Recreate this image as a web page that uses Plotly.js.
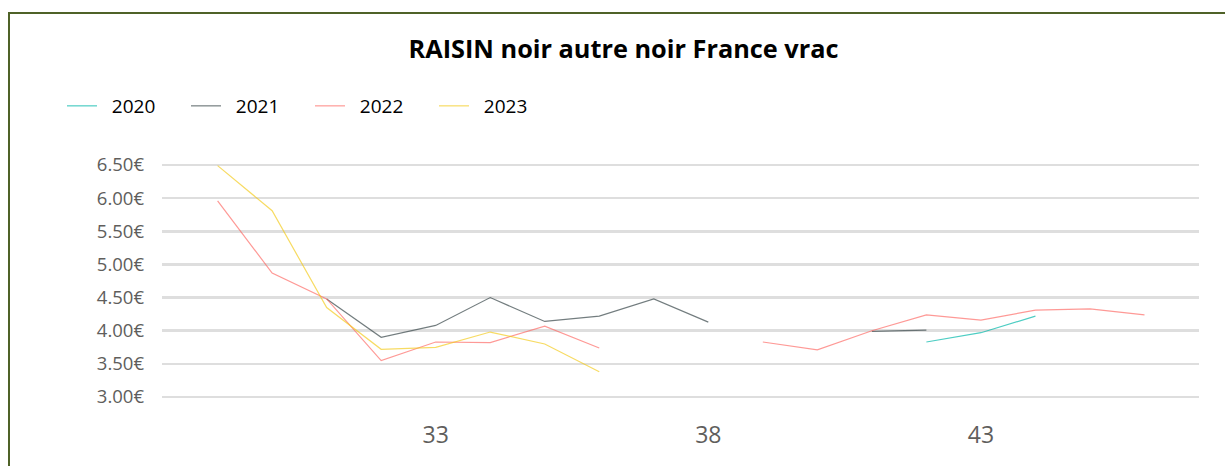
<!DOCTYPE html>
<html>
<head>
<meta charset="utf-8">
<script src="https://cdn.plot.ly/plotly-3.0.1.min.js"></script>
<style>
  html, body { margin:0; padding:0; background:#fff; overflow:hidden; }
  #chart { position:absolute; left:0; top:0; width:1225px; height:466px; }
  #frame { position:absolute; left:8px; top:12px; width:1300px; height:600px;
           border-top:2px solid #4f6228; border-left:2px solid #4f6228; pointer-events:none; }
</style>
</head>
<body>
<div id="chart"></div>
<div id="frame"></div>
<script>
const weeks = [29,30,31,32,33,34,35,36,37,38,39,40,41,42,43,44,45,46];
const s2020 = [null,null,null,null,null,null,null,null,null,null,null,null,null,3.83,3.97,4.22,null,null];
const s2021 = [null,null,4.48,3.90,4.08,4.50,4.14,4.22,4.48,4.13,null,null,3.99,4.01,null,null,null,null];
const s2022 = [5.96,4.87,4.48,3.55,3.83,3.82,4.07,3.74,null,null,3.83,3.71,4.00,4.24,4.16,4.31,4.33,4.24];
const s2023 = [6.49,5.81,4.35,3.72,3.75,3.98,3.80,3.38,null,null,null,null,null,null,null,null,null,null];
const seriesNames = ['2020','2021','2022','2023'];
const xTicks = [33,38,43];

const colors = ['rgba(1,184,170,0.7)','rgba(55,70,73,0.7)','rgba(253,98,94,0.65)','rgba(242,200,15,0.65)'];
const allSeries = [s2020,s2021,s2022,s2023];

const traces = allSeries.map((s,i)=>({
  type:'scatter', mode:'lines', x:weeks, y:s, name:'\u00a0\u00a0' + seriesNames[i],
  line:{color:colors[i], width:1.2}, connectgaps:false, hoverinfo:'x+y'
}));

const layout = {
  width:1225, height:466,
  paper_bgcolor:'#fff', plot_bgcolor:'#fff',
  margin:{l:162, r:26, t:163, b:67},
  font:{family:'"Open Sans", "Noto Sans", sans-serif', color:'#000'},
  title:{text:'<b>RAISIN noir autre noir France vrac</b>', x:0.509, xanchor:'center',
         y:1-49/466, yanchor:'middle', yref:'container',
         font:{size:25.3, color:'#000', family:'"Open Sans", "Noto Sans", sans-serif'}},
  showlegend:true,
  legend:{orientation:'h', xref:'container', yref:'container', x:62/1225, xanchor:'left',
          y:1-106/466, yanchor:'middle', font:{size:19, color:'#000'},
          entrywidth:79, entrywidthmode:'pixels', traceorder:'normal', bgcolor:'rgba(0,0,0,0)'},
  xaxis:{range:[27.98,47], tickvals:xTicks, ticktext:xTicks.map(String), showgrid:false, zeroline:false,
         showline:false, ticks:'', ticklabelstandoff:20,
         tickfont:{size:23, color:'#605e5c', family:'"Open Sans", sans-serif'}},
  yaxis:{range:[2.97,6.53], tick0:3, dtick:0.5, tickformat:'.2f', ticksuffix:'€',
         showgrid:true, gridcolor:'#dedede', gridwidth:2.5, zeroline:false, showline:false,
         ticks:'', ticklabelstandoff:17,
         tickfont:{size:18.5, color:'#605e5c', family:'"Open Sans", sans-serif'}}
};

Plotly.newPlot('chart', traces, layout, {displayModeBar:false, staticPlot:true});
</script>
</body>
</html>
